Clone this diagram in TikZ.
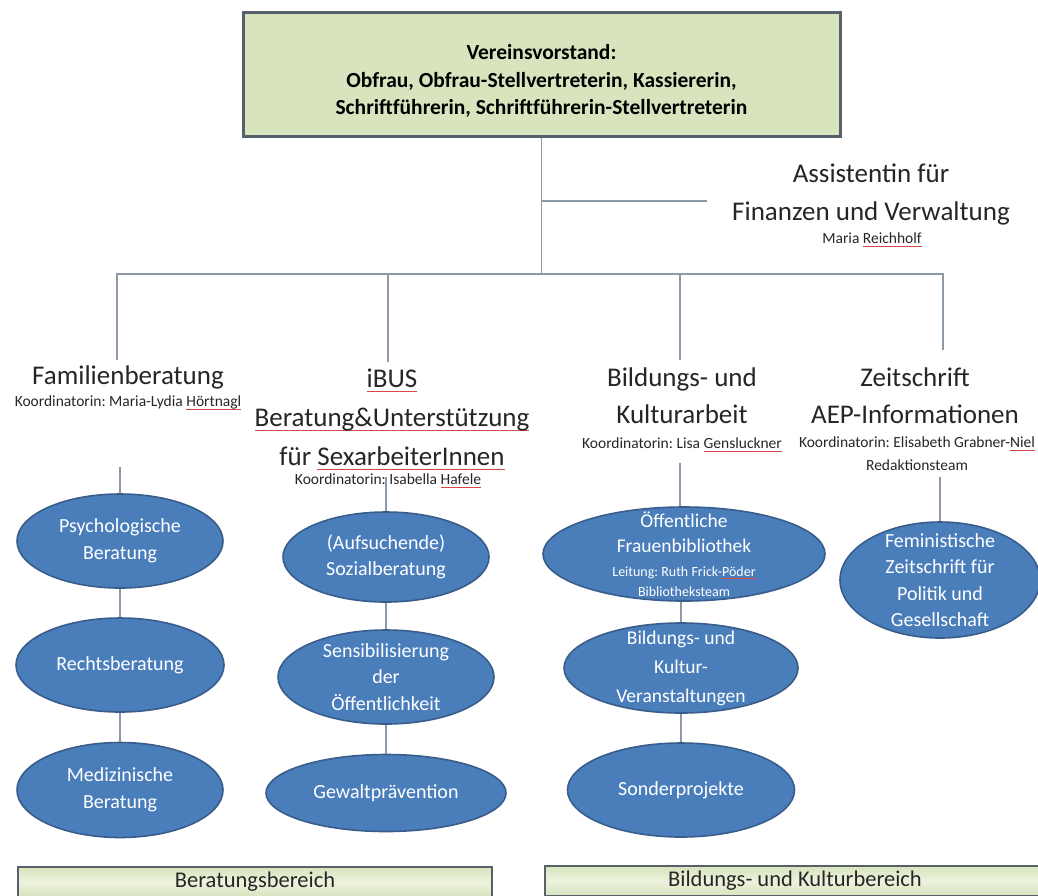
\documentclass[tikz,border=0pt]{standalone}
\usepackage{fontspec}
\setmainfont{Carlito}
\frenchspacing
\usetikzlibrary{shapes.geometric}
\definecolor{boxgreen}{HTML}{D7E4BD}
\definecolor{boxgreenlt}{HTML}{EDF2DD}
\definecolor{boxline}{HTML}{56616C}
\definecolor{ellfill}{HTML}{4A7EBB}
\definecolor{elldraw}{HTML}{385D8A}
\definecolor{connc}{HTML}{8C99A6}
\definecolor{headc}{HTML}{262626}
\definecolor{spellred}{HTML}{D24A4A}
\newcommand{\spl}[2][3pt]{\leavevmode\setbox0\hbox{#2}\rlap{\textcolor{spellred}{\rule[-#1]{\wd0}{0.6pt}}}\box0}
\tikzset{
  link/.style={draw=connc, line width=1.2pt},
  ell/.style={ellipse, draw=elldraw, line width=1.6pt, fill=ellfill, inner sep=0pt},
  elltext/.style={text=white, align=center, font=\fontsize{20}{26.5}\selectfont, inner sep=0pt},
  head/.style={text=headc, align=center, font=\fontsize{27}{38}\selectfont, inner sep=0pt},
  koord/.style={text=headc, align=center, font=\fontsize{15.5}{23}\selectfont, inner sep=0pt},
  greenbox/.style={draw=boxline, fill=boxgreen, inner sep=0pt},
  areabox/.style={draw=boxline, line width=2pt, inner sep=0pt, top color=boxgreen, bottom color=boxgreen, middle color=boxgreenlt, text=headc, font=\fontsize{22.5}{26}\selectfont},
}
\begin{document}
\begin{tikzpicture}[x=1pt,y=-1pt]
\useasboundingbox[fill=white] (0,0) rectangle (1038,895);

% top box
\node[greenbox, line width=3pt, minimum width=597pt, minimum height=124pt] (vv) at (541.5,74) {};
\node[text=black, align=center, inner sep=0pt, font=\bfseries\fontsize{21.5}{27.5}\selectfont] (vvt) at (541.5,81)
  {Vereinsvorstand:\\Obfrau, Obfrau-Stellvertreterin, Kassiererin,\\Schriftführerin, Schriftführerin-Stellvertreterin};

% assistant
\node[head] (assist) at (871,194) {Assistentin für\\Finanzen und Verwaltung};
\node[koord] (assistn) at (872,240) {Maria \spl{Reichholf}};

% headings
\node[head] (fam) at (128,377) {Familienberatung};
\node[koord] (famk) at (128,403) {Koordinatorin: Maria-Lydia \spl{Hörtnagl}};
\node[head, font=\fontsize{27}{39}\selectfont] (ibus) at (392,419) {\spl[4pt]{iBUS}\\\spl[4pt]{Beratung\&Unterstützung}\\für \spl[4pt]{SexarbeiterInnen}};
\node[koord] (ibusk) at (388,481) {Koordinatorin: Isabella \spl{Hafele}};
\node[head, font=\fontsize{27}{37}\selectfont] (bild) at (682,396) {Bildungs- und\\Kulturarbeit};
\node[koord] (bildk) at (682,445) {Koordinatorin: Lisa \spl{Gensluckner}};
\node[head, font=\fontsize{27}{37}\selectfont] (zeit) at (915,396) {Zeitschrift\\AEP-Informationen};
\node[koord] (zeitk) at (917,454) {Koordinatorin: Elisabeth Grabner-\spl{Niel}\\Redaktionsteam};

% ellipses
\node[ell, minimum width=206pt, minimum height=94pt, label={[elltext]center:Psychologische\\Beratung}] (psy) at (120,541) {};
\node[ell, minimum width=208pt, minimum height=94pt, label={[elltext]center:Rechtsberatung}] (recht) at (120,665) {};
\node[ell, minimum width=206pt, minimum height=95pt, label={[elltext]center:Medizinische\\Beratung}] (med) at (120,790) {};

\node[ell, minimum width=206pt, minimum height=90pt, label={[elltext]center:(Aufsuchende)\\Sozialberatung}] (auf) at (386,557) {};
\node[ell, minimum width=216pt, minimum height=94pt, label={[elltext]center:Sensibilisierung\\der\\Öffentlichkeit}] (sens) at (386,677) {};
\node[ell, minimum width=240pt, minimum height=77pt, label={[elltext]center:Gewaltprävention}] (gew) at (386,793) {};

\node[ell, minimum width=282pt, minimum height=94pt, label={[elltext, font=\fontsize{19.5}{24.5}\selectfont]center:Öffentliche\\Frauenbibliothek\\{\fontsize{14}{21}\selectfont Leitung: Ruth Frick-\spl[2pt]{Pöder}}\\[-5pt]{\fontsize{14}{21}\selectfont Bibliotheksteam}}] (oef) at (684,554) {};
\node[ell, minimum width=234pt, minimum height=90pt, label={[elltext, font=\fontsize{19.5}{29}\selectfont]center:Bildungs- und\\Kultur-\\Veranstaltungen}] (bkv) at (681,668) {};
\node[ell, minimum width=227pt, minimum height=94pt, label={[elltext]center:Sonderprojekte}] (sond) at (681,790) {};

\node[ell, minimum width=200pt, minimum height=116pt, label={[elltext]center:Feministische\\Zeitschrift für\\Politik und\\Gesellschaft}] (fem) at (940,580) {};

% bottom area boxes
\node[areabox, minimum width=474pt, minimum height=30pt] (ber) at (255,882) {Beratungsbereich};
\node[areabox, minimum width=500pt, minimum height=30pt] (bku) at (795,881) {Bildungs- und Kulturbereich};

% connectors
\coordinate (busL) at (117,274);
\coordinate (famtop) at (117,360);
\coordinate (ibtop) at (388,362);
\coordinate (bitop) at (680,360);
\coordinate (zetop) at (943,350);
\coordinate (asst) at (707,201);
\draw[link] (vv.south) -- (vv.south |- busL);
\draw[link] (vv.south |- asst) -- (asst);
\draw[link] (famtop) -- (famtop |- busL) -- (zetop |- busL) -- (zetop);
\draw[link] (ibtop) -- (ibtop |- busL);
\draw[link] (bitop) -- (bitop |- busL);

\coordinate (famc) at (120,467);
\coordinate (ibc) at (386,477);
\coordinate (bic) at (680,463);
\coordinate (zec) at (940,477);
\draw[link] (famc) -- (psy.north);
\draw[link] (ibc) -- (auf.north);
\draw[link] (bic) -- (bic |- oef.north);
\draw[link] (zec) -- (fem.north);

\draw[link] (psy.south) -- (recht.north);
\draw[link] (recht.south) -- (med.north);
\draw[link] (auf.south) -- (sens.north);
\draw[link] (sens.south) -- (gew.north);
\draw[link] (oef.south -| bkv.north) -- (bkv.north);
\draw[link] (bkv.south) -- (sond.north);
\end{tikzpicture}
\end{document}
